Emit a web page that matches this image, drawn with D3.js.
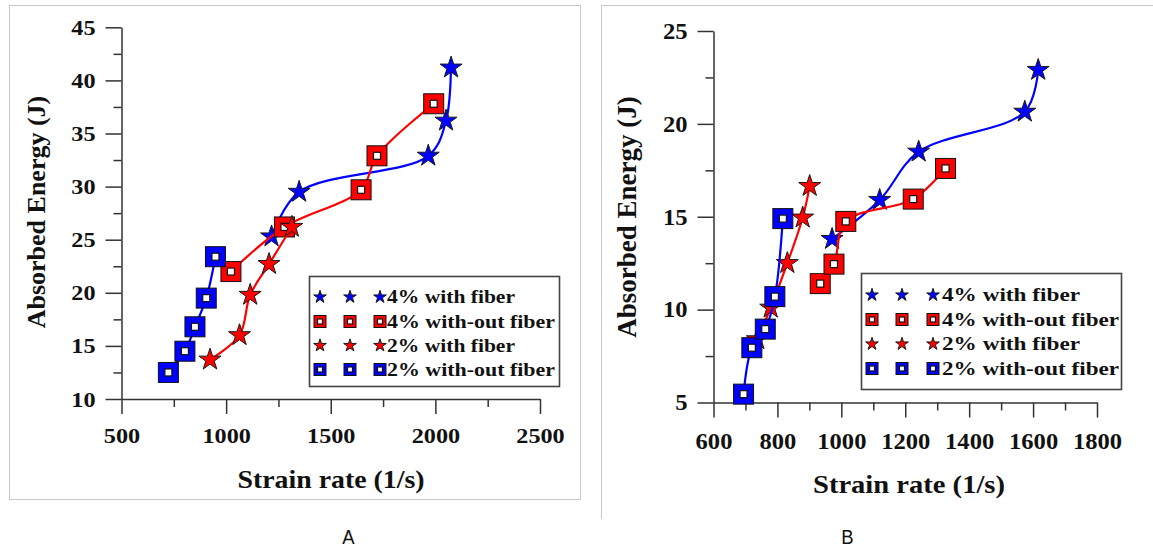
<!DOCTYPE html>
<html>
<head>
<meta charset="utf-8">
<script src="https://cdn.jsdelivr.net/npm/d3@7"></script>
<style>
  body { margin: 0; background: #fff; }
  svg { display: block; }
</style>
</head>
<body>
<svg width="1153" height="551"></svg>
<script>
////////////////// DATA
const seriesNames = ["4% with fiber", "4% with-out fiber", "2% with fiber", "2% with-out fiber"];
const seriesShapes = ["star", "square", "star", "square"];
const seriesColors = ["#0000ff", "#ff0000", "#ff0000", "#0000ff"];

// panel A
const aXTicks = [500, 1000, 1500, 2000, 2500];
const aXMinor = [750, 1250, 1750, 2250];
const aYTicks = [10, 15, 20, 25, 30, 35, 40, 45];
const aYMinor = [12.5, 17.5, 22.5, 27.5, 32.5, 37.5, 42.5];
const a4WithX = [1217, 1349, 1966, 2051, 2075];
const a4WithY = [25.3, 29.5, 32.9, 36.2, 41.2];
const a4WithoutX = [1023, 1279, 1645, 1721, 1992];
const a4WithoutY = [22.0, 26.2, 29.7, 32.9, 37.8];
const a2WithX = [923, 1064, 1115, 1205, 1314];
const a2WithY = [13.7, 16.0, 19.8, 22.7, 26.2];
const a2WithoutX = [724, 803, 851, 905, 949];
const a2WithoutY = [12.5, 14.5, 16.8, 19.5, 23.4];

// panel B
const bXTicks = [600, 800, 1000, 1200, 1400, 1600, 1800];
const bXMinor = [700, 900, 1100, 1300, 1500, 1700];
const bYTicks = [5, 10, 15, 20, 25];
const bYMinor = [7.5, 12.5, 17.5, 22.5];
const b4WithX = [971, 1120, 1242, 1574, 1616];
const b4WithY = [13.8, 15.9, 18.5, 20.65, 22.9];
const b4WithoutX = [934, 977, 1014, 1225, 1326];
const b4WithoutY = [11.4, 12.45, 14.75, 15.95, 17.6];
const b2WithX = [737, 779, 831, 879, 901];
const b2WithY = [8.4, 10.1, 12.5, 14.95, 16.65];
const b2WithoutX = [694, 720, 762, 792, 817];
const b2WithoutY = [5.45, 7.95, 8.95, 10.7, 14.9];

const xLabel = "Strain rate (1/s)";
const yLabel = "Absorbed Energy (J)";
const panelLetters = ["A", "B"];
//////////////////////////////////////////////////

const serif = '"Liberation Serif", "Times New Roman", serif';
const svg = d3.select("svg");

// frames
svg.append("rect")
  .attr("x", 9.5).attr("y", 5.5)
  .attr("width", 571).attr("height", 494)
  .attr("fill", "none").attr("stroke", "#c8c8c8");
svg.append("path")
  .attr("d", "M601.5,519V5.5H1153")
  .attr("fill", "none").attr("stroke", "#c8c8c8");

const drawStar = (sel, color, size) => {
  sel.append("path")
    .attr("d", d3.symbol(d3.symbolStar, size)())
    .attr("fill", color)
    .attr("stroke", "#1a1a1a")
    .attr("stroke-width", 1);
};

const drawSquare = (sel, color, s, inner) => {
  sel.append("rect")
    .attr("x", -s / 2).attr("y", -s / 2)
    .attr("width", s).attr("height", s)
    .attr("fill", color)
    .attr("stroke", "#111").attr("stroke-width", 1);
  sel.append("rect")
    .attr("x", -inner / 2).attr("y", -inner / 2)
    .attr("width", inner).attr("height", inner)
    .attr("fill", "#fff")
    .attr("stroke", "#111").attr("stroke-width", 1.2);
};

const drawMarker = (sel, shape, color, big) => {
  if (shape === "star") drawStar(sel, color, big ? 150 : 50);
  else drawSquare(sel, color, big ? 20 : 12, big ? 7 : 5);
};

const panel = (p) => {
  const x = d3.scaleLinear().domain(p.xDomain).range(p.xRange);
  const y = d3.scaleLinear().domain(p.yDomain).range(p.yRange);
  const g = svg.append("g");

  const styleAxis = (ag) => {
    ag.attr("font-family", serif).attr("font-weight", "bold")
      .attr("font-size", p.tickFont);
    ag.selectAll("path, line").attr("stroke", "#333").attr("stroke-width", 1.5);
    ag.selectAll("text")
      .attr("fill", "#111")
      .style("font-family", serif)
      .style("font-weight", "bold")
      .style("font-size", p.tickFont + "px");
  };

  // y axis
  const yAxisG = g.append("g").attr("transform", `translate(${p.xRange[0]},0)`)
    .call(d3.axisLeft(y).tickValues(p.yTicks).tickSize(16).tickPadding(10).tickSizeOuter(0));
  styleAxis(yAxisG);
  yAxisG.selectAll("text")
    .attr("x", -26 / p.sx)
    .attr("transform", `scale(${p.sx},1)`);
  const yMinorG = g.append("g").attr("transform", `translate(${p.xRange[0]},0)`)
    .call(d3.axisLeft(y).tickValues(p.yMinor).tickSize(8).tickFormat("").tickSizeOuter(0));
  yMinorG.select(".domain").remove();
  styleAxis(yMinorG);

  // x axis
  const xAxisG = g.append("g").attr("transform", `translate(0,${p.yRange[0]})`)
    .call(d3.axisBottom(x).tickValues(p.xTicks).tickSize(15).tickPadding(p.xPad).tickFormat(d3.format("d")).tickSizeOuter(0));
  styleAxis(xAxisG);
  xAxisG.selectAll("text").attr("transform", `scale(${p.sx},1)`);
  const xMinorG = g.append("g").attr("transform", `translate(0,${p.yRange[0]})`)
    .call(d3.axisBottom(x).tickValues(p.xMinor).tickSize(8).tickFormat("").tickSizeOuter(0));
  xMinorG.select(".domain").remove();
  styleAxis(xMinorG);

  // titles
  g.append("text")
    .attr("x", p.xTitle[0]).attr("y", p.xTitle[1])
    .attr("text-anchor", "middle")
    .attr("font-family", serif).attr("font-weight", "bold")
    .attr("font-size", p.titleFont)
    .attr("textLength", p.xTitle[2]).attr("lengthAdjust", "spacingAndGlyphs")
    .attr("fill", "#111")
    .text(xLabel);
  g.append("text")
    .attr("transform", `translate(${p.yTitle[0]},${p.yTitle[1]}) rotate(-90)`)
    .attr("text-anchor", "middle")
    .attr("font-family", serif).attr("font-weight", "bold")
    .attr("font-size", p.yTitle[2])
    .attr("fill", "#111")
    .text(yLabel);

  // series
  const line = d3.line()
    .x(d => x(d[0])).y(d => y(d[1]))
    .curve(d3.curveCatmullRom.alpha(0.5));
  p.series.forEach((s, i) => {
    const pts = s[0].map((v, j) => [v, s[1][j]]);
    g.append("path")
      .attr("d", line(pts))
      .attr("fill", "none")
      .attr("stroke", seriesColors[i])
      .attr("stroke-width", 2.2);
    pts.forEach(d => {
      g.append("g")
        .attr("transform", `translate(${x(d[0])},${y(d[1])})`)
        .call(drawMarker, seriesShapes[i], seriesColors[i], true);
    });
  });

  // legend
  const lg = g.append("g");
  lg.append("rect")
    .attr("x", p.legendBox[0]).attr("y", p.legendBox[1])
    .attr("width", p.legendBox[2]).attr("height", p.legendBox[3])
    .attr("fill", "#fff").attr("stroke", "#444").attr("stroke-width", 1.6);
  seriesNames.forEach((name, i) => {
    const ry = p.legendRows[i];
    p.legendSym.forEach(sx => {
      lg.append("g")
        .attr("transform", `translate(${sx},${ry})`)
        .call(drawMarker, seriesShapes[i], seriesColors[i], false);
    });
    lg.append("text")
      .attr("x", p.legendText).attr("y", ry)
      .attr("dy", "0.35em")
      .attr("font-family", serif).attr("font-weight", "bold")
      .attr("font-size", 18)
      .attr("textLength", p.legendWidths[i % 2]).attr("lengthAdjust", "spacingAndGlyphs")
      .attr("fill", "#111")
      .text(name);
  });

  // panel letter
  svg.append("text")
    .attr("transform", `translate(${p.letter[0]},${p.letter[1]}) scale(0.88,1)`)
    .attr("text-anchor", "middle")
    .attr("font-family", '"Liberation Sans", Arial, sans-serif')
    .attr("font-size", 21)
    .attr("fill", "#111")
    .text(p.letter[2]);
};

panel({
  xDomain: [500, 2500], xRange: [121.5, 540],
  yDomain: [10, 45], yRange: [399, 27.3],
  xTicks: aXTicks, xMinor: aXMinor, yTicks: aYTicks, yMinor: aYMinor,
  tickFont: 22, sx: 1.1, xPad: 13,
  titleFont: 25,
  xTitle: [331, 488, 187],
  yTitle: [45, 212, 26],
  series: [[a4WithX, a4WithY], [a4WithoutX, a4WithoutY], [a2WithX, a2WithY], [a2WithoutX, a2WithoutY]],
  legendBox: [309.5, 276.5, 250, 110],
  legendRows: [297, 321.5, 345.5, 369.5],
  legendSym: [320, 350, 380],
  legendText: 387,
  legendWidths: [128, 168],
  letter: [348.5, 544, panelLetters[0]]
});

panel({
  xDomain: [600, 1800], xRange: [713.5, 1097],
  yDomain: [5, 25], yRange: [402.5, 31],
  xTicks: bXTicks, xMinor: bXMinor, yTicks: bYTicks, yMinor: bYMinor,
  tickFont: 23, sx: 1.07, xPad: 15,
  titleFont: 26,
  xTitle: [909, 493, 192],
  yTitle: [636, 217, 27],
  series: [[b4WithX, b4WithY], [b4WithoutX, b4WithoutY], [b2WithX, b2WithY], [b2WithoutX, b2WithoutY]],
  legendBox: [861.5, 273.5, 260, 116],
  legendRows: [295, 319.5, 344, 368.5],
  legendSym: [872, 902, 933],
  legendText: 942,
  legendWidths: [138, 177],
  letter: [847.5, 544, panelLetters[1]]
});
</script>
</body>
</html>
